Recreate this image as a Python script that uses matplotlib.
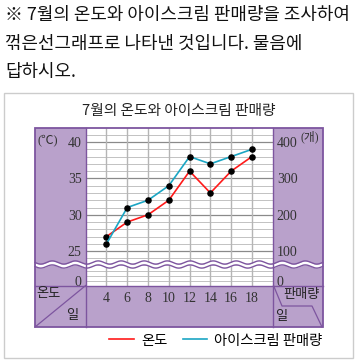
import numpy as np
import matplotlib
matplotlib.use('Agg')
import matplotlib.pyplot as plt
from matplotlib.lines import Line2D
from matplotlib.patches import Rectangle

plt.rcParams['font.family'] = ['Noto Sans CJK KR', 'DejaVu Sans']

# data
days = [4, 6, 8, 10, 12, 14, 16, 18]
temps = [27, 29, 30, 32, 36, 33, 36, 38]
sales = [120, 220, 240, 280, 360, 340, 360, 380]
temp_ticks = [25, 30, 35, 40]
sales_ticks = [100, 200, 300, 400]

W, H = 357, 360
PURPLE = '#b9a1cb'
EDGE = '#7d559f'
RED = '#ff1a1a'
TEAL = '#1ba6c4'
SERIF = ['Liberation Serif', 'Noto Sans CJK KR']
TICK_FS = 10

fig = plt.figure(figsize=(W / 100, H / 100), dpi=100)


def rect(x0, y0, x1, y1):
    # pixel box (top-left origin) -> figure fraction
    return [x0 / W, 1 - y1 / H, (x1 - x0) / W, (y1 - y0) / H]


# box geometry in pixels
BL, BR, BT, BB = 35, 322.7, 127.5, 327
PL, PR = 85.7, 272.7
ROW = 285.5

# background layer
bg = fig.add_axes([0, 0, 1, 1], zorder=0)
bg.set_xlim(0, W)
bg.set_ylim(H, 0)
bg.axis('off')
bg.add_patch(Rectangle((4, 92.5), 349, 265.5, fill=False, ec='#cccccc', lw=1))
bg.add_patch(Rectangle((BL, BT), BR - BL, BB - BT, fc=PURPLE, ec='none'))

para = ['※ 7월의 온도와 아이스크림 판매량을 조사하여',
        '꺾은선그래프로 나타낸 것입니다. 물음에',
        '답하시오.']
for i, line in enumerate(para):
    bg.text(5, 15 + 28.5 * i, line, fontsize=12.9, va='center', ha='left', color='#111111')
bg.text(179, 111.5, '7월의 온도와 아이스크림 판매량', fontsize=10.6, ha='center', va='center', color='#222222')

# main plot area
ax = fig.add_axes(rect(PL, BT, PR, 263.5), zorder=2)
ax.set_facecolor('white')
t_lo, t_hi = 23.3, 42
ax.set_xlim(2, 20)
ax.set_ylim(t_lo, t_hi)
for v in range(24, 42):
    major = v % 5 == 0
    ax.axhline(v, color='#8a8a8a' if major else '#b8b8b8', lw=0.9 if major else 0.6, zorder=1)
for d in days:
    ax.axvline(d, color='#b5b5b5', lw=1.0, zorder=1)
ax.set_yticks(temp_ticks)
ax.set_yticklabels([str(t) for t in temp_ticks], family=SERIF, fontsize=TICK_FS, color='#333333')
ax.tick_params(axis='y', length=0, pad=3)
ax.set_xticks([])
for s in ax.spines.values():
    s.set_visible(False)

ax2 = ax.twinx()
ax2.set_ylim((t_lo - 20) * 20, (t_hi - 20) * 20)
ax2.set_yticks(sales_ticks)
ax2.set_yticklabels([str(s) for s in sales_ticks], family=SERIF, fontsize=TICK_FS, color='#333333')
ax2.tick_params(axis='y', length=0, pad=3)
for s in ax2.spines.values():
    s.set_visible(False)

ax.plot(days, temps, color=RED, lw=1.2, zorder=3, clip_on=False)
ax2.plot(days, sales, color=TEAL, lw=1.2, zorder=3, clip_on=False)
ax.plot(days, temps, 'o', color='black', ms=3.7, zorder=4, clip_on=False)
ax2.plot(days, sales, 'o', color='black', ms=3.7, zorder=4, clip_on=False)

# lower strip near zero
axb = fig.add_axes(rect(PL, 266, PR, ROW), zorder=2)
axb.set_facecolor('white')
axb.set_xlim(2, 20)
axb.set_ylim(-0.95, 3.0)
for v in [0, 1, 2]:
    axb.axhline(v, color='#b8b8b8', lw=0.6)
for d in days:
    axb.axvline(d, color='#b5b5b5', lw=1.0)
axb.set_yticks([0])
axb.set_yticklabels(['0'], family=SERIF, fontsize=TICK_FS, color='#333333')
axb.tick_params(axis='y', length=0, pad=3)
axb.set_xticks(days)
axb.set_xticklabels([str(d) for d in days], family=SERIF, fontsize=TICK_FS, color='#333333')
axb.tick_params(axis='x', length=0, pad=5)
axb2 = axb.twinx()
axb2.set_ylim(-0.95, 3.0)
axb2.set_yticks([0])
axb2.set_yticklabels(['0'], family=SERIF, fontsize=TICK_FS, color='#333333')
axb2.tick_params(axis='y', length=0, pad=3)
for a in (axb, axb2):
    for s in a.spines.values():
        s.set_visible(False)

# overlay layer: wave break, borders, corner cells
ov = fig.add_axes([0, 0, 1, 1], zorder=5)
ov.set_xlim(0, W)
ov.set_ylim(H, 0)
ov.axis('off')
ov.patch.set_alpha(0)

xs = np.linspace(BL, BR, 400)
wave_top = 262.5 + 1.6 * np.sin(2 * np.pi * (xs - BL) / 23)
wave_bot = wave_top + 4
ov.fill_between(xs, wave_top, wave_bot, color='white', lw=0)
ov.plot(xs, wave_top, color=EDGE, lw=1)
ov.plot(xs, wave_bot, color=EDGE, lw=1)

ov.add_patch(Rectangle((BL, BT), BR - BL, BB - BT, fill=False, ec=EDGE, lw=1.3))
ov.plot([PL, PL], [BT, BB], color=EDGE, lw=1)
ov.plot([PR, PR], [BT, BB], color=EDGE, lw=1)
ov.plot([BL, BR], [ROW, ROW], color=EDGE, lw=1)
ov.plot([BL, PL], [BB, ROW], color=EDGE, lw=0.9)
ov.plot([273.5, 282, 312, 322], [ROW, 306, 306, BB], color=EDGE, lw=0.9)

ov.text(37, 140.5, '(℃)', family=SERIF, fontsize=9, ha='left', va='center', color='#333333')
ov.text(300.5, 136.5, '(개)', family=SERIF, fontsize=8.5, ha='left', va='center', color='#333333')
ov.text(36, 293.5, '온도', fontsize=9.5, ha='left', va='center', color='#222222')
ov.text(72.5, 316, '일', fontsize=9.5, ha='center', va='center', color='#222222')
ov.text(301.5, 294.5, '판매량', fontsize=9.5, ha='center', va='center', color='#222222')
ov.text(281.5, 316.5, '일', fontsize=9.5, ha='center', va='center', color='#222222')

handles = [Line2D([], [], color=RED, lw=1.2), Line2D([], [], color=TEAL, lw=1.2)]
fig.legend(handles, ['온도', '아이스크림 판매량'], loc='center', bbox_to_anchor=(216 / W, 1 - 340.5 / H),
           ncol=2, frameon=False, fontsize=10.3, handlelength=1.7, handletextpad=0.5, columnspacing=1.1)

fig.savefig('out.png', dpi=100)
